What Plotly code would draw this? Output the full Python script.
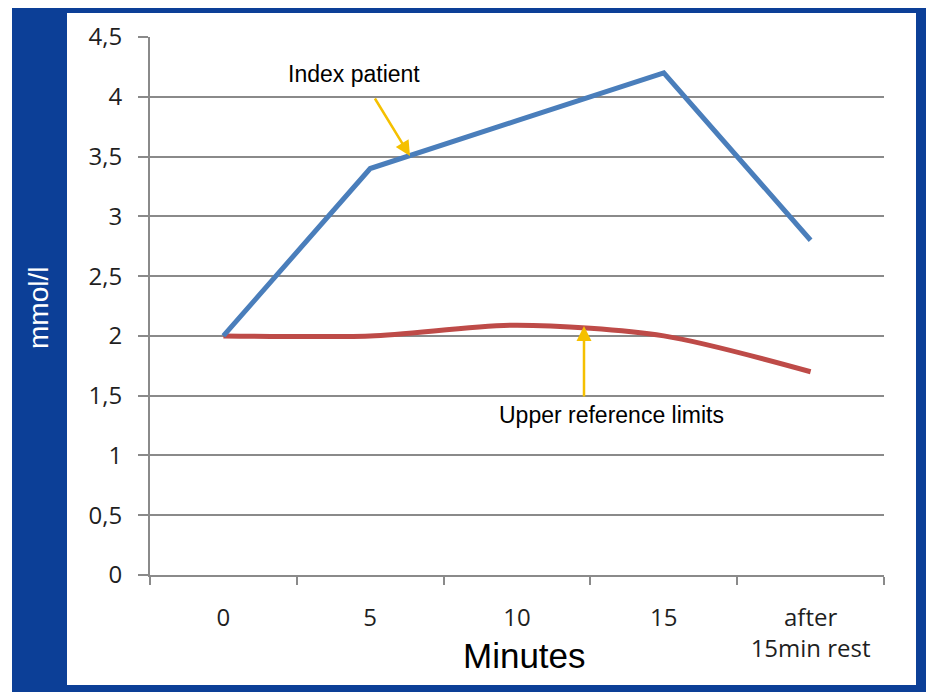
import plotly.graph_objects as go

categories = ["0", "5", "10", "15", "after<br>15min rest"]
index_patient = [2.0, 3.4, 3.8, 4.2, 2.8]
upper_reference = [2.0, 2.0, 2.09, 2.0, 1.7]
y_ticks = [0, 0.5, 1, 1.5, 2, 2.5, 3, 3.5, 4, 4.5]

FRAME = "#0c3f97"
GRID = "#8a8a8a"
TICKFONT = dict(family="Open Sans, Lato, sans-serif", size=24, color="#1f1f1f")
ARIAL = "Liberation Sans, Arial, sans-serif"

# the page shows the figure offset by 8px; reference pixel coords are shifted by OFF
OFF = 8
W, H = 934, 692
L, R, T, B = 150 - OFF, 884 - OFF, 37 - OFF, 575 - OFF

def px(xp):
    return (xp - OFF - L) / (R - L)
def py(yp):
    return (B - (yp - OFF)) / (B - T)

fig = go.Figure()
fig.add_trace(go.Scatter(x=categories, y=upper_reference, mode="lines",
                         line=dict(color="#be4b48", width=5, shape="spline", smoothing=0.8),
                         showlegend=False, hoverinfo="skip"))
fig.add_trace(go.Scatter(x=categories, y=index_patient, mode="lines",
                         line=dict(color="#4a7ebb", width=5),
                         showlegend=False, hoverinfo="skip"))

fig.add_shape(type="rect", xref="paper", yref="paper", layer="below",
              x0=px(12), x1=px(960), y0=py(0), y1=py(720),
              fillcolor=FRAME, line=dict(width=0))
fig.add_shape(type="rect", xref="paper", yref="paper", layer="below",
              x0=px(67), x1=px(916), y0=py(13), y1=py(685),
              fillcolor="white", line=dict(width=0))

fig.add_annotation(text="mmol/l", xref="paper", yref="paper", x=px(38), y=py(308),
                   xanchor="center", yanchor="middle",
                   showarrow=False, textangle=-90,
                   font=dict(family=ARIAL, size=28, color="white"))
fig.add_annotation(text="Minutes", xref="paper", yref="paper", x=px(524), y=py(655),
                   xanchor="center", yanchor="middle",
                   showarrow=False, font=dict(family=ARIAL, size=35, color="black"))

fig.add_annotation(text="Index patient", xref="paper", yref="paper", x=px(354), y=py(74),
                   xanchor="center", yanchor="middle",
                   showarrow=False, font=dict(family=ARIAL, size=23, color="black"))
fig.add_annotation(text="", x=px(410), y=py(156), xref="paper", yref="paper",
                   ax=-36, ay=-59,
                   showarrow=True, arrowhead=2, arrowsize=1.2, arrowwidth=2.5,
                   arrowcolor="#f5c000")
fig.add_annotation(text="Upper reference limits", xref="paper", yref="paper",
                   x=px(611), y=py(415), xanchor="center", yanchor="middle",
                   showarrow=False,
                   font=dict(family=ARIAL, size=23, color="black"))
fig.add_annotation(text="", x=px(584), y=py(326), xref="paper", yref="paper",
                   ax=0, ay=72,
                   showarrow=True, arrowhead=2, arrowsize=1.2, arrowwidth=2.5,
                   arrowcolor="#f5c000")

fig.update_layout(
    width=W, height=H,
    margin=dict(l=L, r=W - R, t=T, b=H - B),
    paper_bgcolor="white", plot_bgcolor="rgba(0,0,0,0)",
    separators=",.",
    xaxis=dict(type="category", range=[-0.5, 4.5], showgrid=False,
               showline=True, linecolor=GRID, linewidth=2,
               ticks="outside", tickson="boundaries", ticklen=8, tickcolor=GRID, tickwidth=2,
               tickfont=TICKFONT, ticklabelstandoff=20),
    yaxis=dict(range=[0, 4.5], tickvals=y_ticks, showgrid=True, gridcolor=GRID, gridwidth=2,
               showline=True, linecolor=GRID, linewidth=2, zeroline=False,
               ticks="outside", ticklen=10, tickcolor=GRID, tickwidth=2,
               tickfont=TICKFONT, ticklabelstandoff=11),
)

fig.write_html("out.html")
